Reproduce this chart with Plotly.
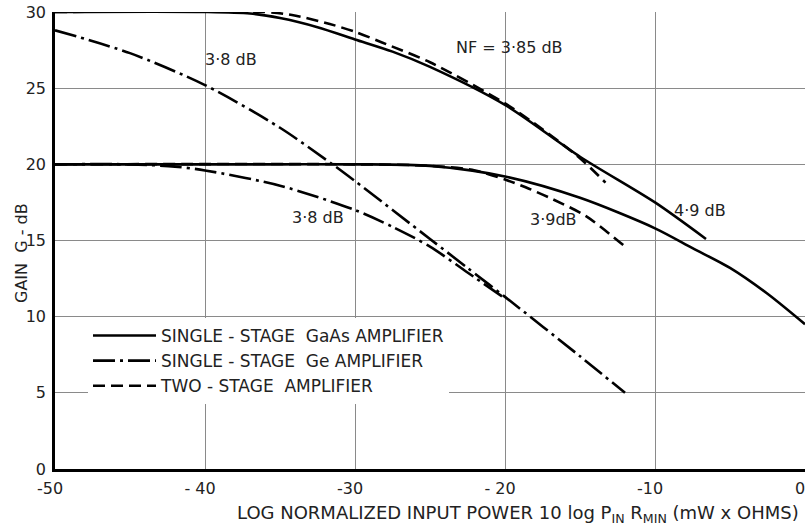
import plotly.graph_objects as go

# ---- data ----
gaas_hi_x = [-50, -40, -37, -35, -32.5, -30, -27.5, -25, -20, -15, -10, -6.6]
gaas_hi_y = [30, 30, 29.9, 29.6, 29.0, 28.2, 27.4, 26.4, 23.9, 20.5, 17.5, 15.1]

gaas_lo_x = [-50, -35, -30, -25, -20, -15, -10, -7.5, -5, -2.5, 0]
gaas_lo_y = [20, 20, 20, 19.9, 19.2, 17.8, 15.8, 14.5, 13.2, 11.5, 9.5]

two_hi_x = [-50, -36, -34.2, -32, -30, -28.2, -25, -20, -17.5, -15, -13.3]
two_hi_y = [30, 30, 29.8, 29.3, 28.7, 28.0, 26.7, 24.0, 22.3, 20.4, 18.8]

two_lo_x = [-50, -30, -25, -22, -20, -18.4, -16.8, -14.6, -12]
two_lo_y = [20, 20, 19.9, 19.6, 19.0, 18.4, 17.7, 16.6, 14.6]

ge_hi_x = [-50, -45, -40, -35, -31.5, -30, -25, -22.5, -20, -15, -12]
ge_hi_y = [28.8, 27.3, 25.2, 22.4, 20.0, 18.9, 15.1, 13.2, 11.3, 7.4, 5.0]

ge_lo_x = [-50, -45, -42, -40, -35, -30, -27.5, -25, -22.5, -20]
ge_lo_y = [20, 20, 19.85, 19.6, 18.6, 17.0, 15.9, 14.6, 12.9, 11.2]

x_tickvals = [-50, -40, -30, -20, -10, 0]
x_ticktext = ["-50", "- 40", "-30", "- 20", "-10", "0"]
y_tickvals = [0, 5, 10, 15, 20, 25, 30]

labels = [
    ("3·8 dB", -38.3, 26.9),
    ("3·8 dB", -32.5, 16.5),
    ("NF = 3·85 dB", -19.7, 27.7),
    ("4·9 dB", -7.0, 17.0),
    ("3·9dB", -16.8, 16.4),
]

FONT = "DejaVu Sans, Liberation Sans, sans-serif"
TXT = "#222"
W = 2.6
DASHED = "12px,6px"
DASHDOT = "22px,5px,3px,5px"

# plot area spans x 55..805, y 12..469 of the 805x527 page
L, T, R, B = 55, 12, 0, 58
PW, PH = 750, 457

fig = go.Figure()

def add(x, y, name, dash, show):
    fig.add_trace(go.Scatter(
        x=x, y=y, mode="lines", name=name, showlegend=show,
        line=dict(color="black", width=W, dash=dash, shape="spline", smoothing=0.8),
    ))

add(gaas_hi_x, gaas_hi_y, "SINGLE - STAGE  GaAs AMPLIFIER", "solid", True)
add(ge_hi_x, ge_hi_y, "SINGLE - STAGE  Ge AMPLIFIER", DASHDOT, True)
add(two_hi_x, two_hi_y, "TWO - STAGE  AMPLIFIER", DASHED, True)
add(gaas_lo_x, gaas_lo_y, "gaas_lo", "solid", False)
add(ge_lo_x, ge_lo_y, "ge_lo", DASHDOT, False)
add(two_lo_x, two_lo_y, "two_lo", DASHED, False)

for txt, xv, yv in labels:
    fig.add_annotation(x=xv, y=yv, text=txt, showarrow=False,
                       font=dict(family=FONT, size=16, color=TXT))

fig.add_annotation(
    xref="paper", yref="paper", x=(801 - L) / PW, y=-(514 - 469) / PH,
    xanchor="right", yanchor="middle", showarrow=False,
    text="LOG NORMALIZED INPUT POWER 10 log P<sub>IN</sub> R<sub>MIN</sub> (mW x OHMS)",
    font=dict(family=FONT, size=18, color=TXT),
)
fig.add_annotation(
    xref="paper", yref="paper", x=-(L - 21) / PW, y=(469 - 253) / PH,
    xanchor="center", yanchor="middle", showarrow=False, textangle=-90,
    text="GAIN  G - dB", font=dict(family=FONT, size=16, color=TXT),
)

fig.update_layout(
    width=805, height=527,
    margin=dict(l=L, r=R, t=T, b=B, pad=0),
    paper_bgcolor="white", plot_bgcolor="white",
    showlegend=True,
    legend=dict(
        x=(88 - L) / PW, y=(469 - 318) / PH, xanchor="left", yanchor="top",
        bgcolor="white", borderwidth=0, itemwidth=63,
        font=dict(family=FONT, size=17, color=TXT),
        tracegroupgap=0,
    ),
    xaxis=dict(
        range=[-50, 0], tick0=-50, dtick=5, showgrid=True, gridcolor="#8a8a8a", gridwidth=1,
        tickmode="array", tickvals=x_tickvals, ticktext=x_ticktext,
        showline=True, linecolor="black", linewidth=2.5,
        ticks="", ticklabelstandoff=3, ticklabelshift=-5, ticklabeloverflow="allow",
        zeroline=False, automargin=False,
        tickfont=dict(family=FONT, size=16, color=TXT),
    ),
    yaxis=dict(
        range=[0, 30], tickvals=y_tickvals, showgrid=True, gridcolor="#8a8a8a", gridwidth=1,
        showline=True, linecolor="black", linewidth=2.5,
        ticks="", ticklabelstandoff=3, ticklabeloverflow="allow",
        zeroline=False, automargin=False,
        tickfont=dict(family=FONT, size=16, color=TXT),
    ),
)

fig.write_html("out.html", config={"displayModeBar": False},
               post_script="document.body.style.margin='0';")
